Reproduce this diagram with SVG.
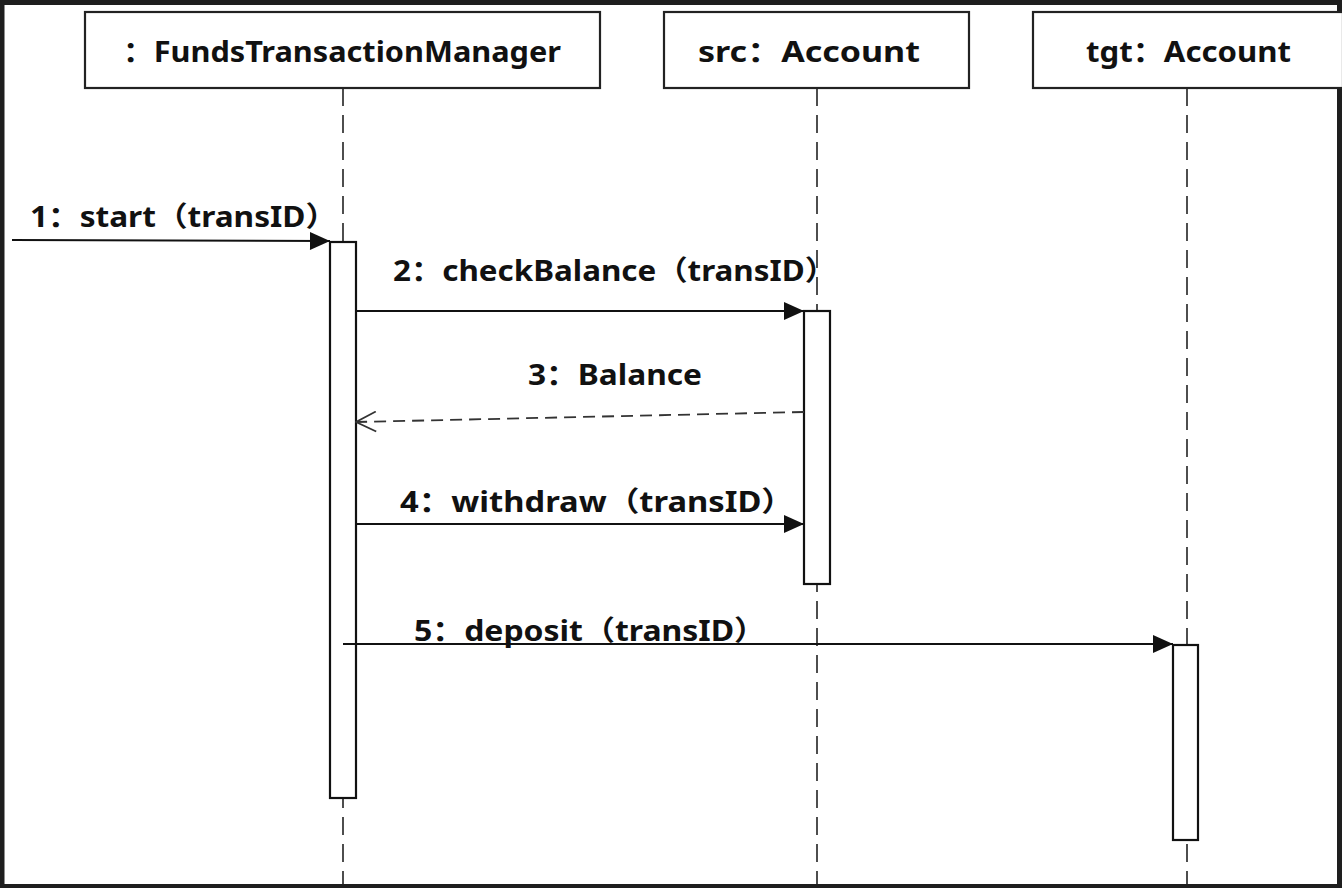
<svg xmlns="http://www.w3.org/2000/svg" width="1342" height="888" viewBox="0 0 1342 888">
<style>
.frame{fill:#ffffff;stroke:#1e1e1e;stroke-width:5}
.obj{fill:#ffffff;stroke:#222;stroke-width:2.2}
.life{stroke:#222;stroke-width:1.6;stroke-dasharray:18 9;fill:none}
.act{fill:#ffffff;stroke:#111;stroke-width:2.2}
.msg{stroke:#111;stroke-width:2.2;fill:none}
.ret{stroke:#333;stroke-width:1.8;fill:none;stroke-dasharray:12 7}
.lbl{font-family:"Noto Sans","Noto Sans CJK SC",sans-serif;font-weight:700;font-size:28px;fill:#111}
</style>
<defs>
<marker id="fill" markerUnits="userSpaceOnUse" markerWidth="22" markerHeight="20" refX="21" refY="10" orient="auto">
<path d="M1,1 L21,10 L1,19 z" fill="#111"/>
</marker>
<marker id="open" markerUnits="userSpaceOnUse" markerWidth="22" markerHeight="22" refX="21" refY="11" orient="auto">
<path d="M1,1 L21,11 L1,21" fill="none" stroke="#333" stroke-width="1.8"/>
</marker>
</defs>
<rect class="frame" x="2" y="2.5" width="1337.5" height="884"/>

<g id="node-manager">
<line class="life" x1="343" y1="88" x2="343" y2="884"/>
<rect class="obj" x="85" y="12" width="515" height="76"/>
<text class="lbl" x="123" y="62" textLength="438" lengthAdjust="spacingAndGlyphs">：FundsTransactionManager</text>
</g>
<g id="node-src">
<line class="life" x1="817" y1="88" x2="817" y2="884"/>
<rect class="obj" x="664" y="12" width="305" height="76"/>
<text class="lbl" x="698" y="62" textLength="222" lengthAdjust="spacingAndGlyphs">src：Account</text>
</g>
<g id="node-tgt">
<line class="life" x1="1187" y1="88" x2="1187" y2="884"/>
<rect class="obj" x="1033" y="12" width="310" height="76"/>
<text class="lbl" x="1086" y="62" textLength="205" lengthAdjust="spacingAndGlyphs">tgt：Account</text>
</g>

<g id="activations">
<rect class="act" x="330" y="242" width="26" height="556"/>
<rect class="act" x="804" y="311" width="26" height="273"/>
<rect class="act" x="1173" y="645" width="25" height="195"/>
</g>

<g id="connectors">
<line class="msg" x1="12" y1="240" x2="330" y2="241" marker-end="url(#fill)"/>
<line class="msg" x1="356" y1="311" x2="804" y2="311" marker-end="url(#fill)"/>
<line class="ret" x1="804" y1="412" x2="356" y2="422" marker-end="url(#open)"/>
<line class="msg" x1="356" y1="524" x2="804" y2="524" marker-end="url(#fill)"/>
<line class="msg" x1="343" y1="644" x2="1173" y2="644" marker-end="url(#fill)"/>
</g>

<g id="labels">
<text class="lbl" x="30" y="227" textLength="307" lengthAdjust="spacingAndGlyphs">1：start（transID）</text>
<text class="lbl" x="393" y="281" textLength="443" lengthAdjust="spacingAndGlyphs">2：checkBalance（transID）</text>
<text class="lbl" x="528" y="385" textLength="174" lengthAdjust="spacingAndGlyphs">3：Balance</text>
<text class="lbl" x="400" y="512" textLength="394" lengthAdjust="spacingAndGlyphs">4：withdraw（transID）</text>
<text class="lbl" x="414" y="641" textLength="352" lengthAdjust="spacingAndGlyphs">5：deposit（transID）</text>
</g>
</svg>
